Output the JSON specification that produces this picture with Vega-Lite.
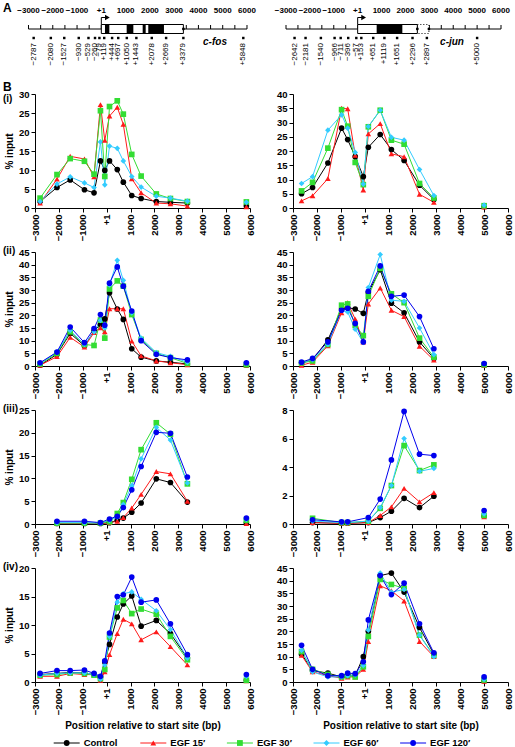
{
"$schema":"https://vega.github.io/schema/vega-lite/v6.json",
"autosize":{"type":"pad"},
"padding":{"left":3,"top":1,"right":0,"bottom":0},
"background":"white",
"config":{"font":"Liberation Sans","view":{"stroke":null},
 "axis":{"labelFont":"Liberation Sans","labelFontWeight":"bold","labelFontSize":9.5,"labelColor":"#000","domainColor":"#000","tickColor":"#000","tickSize":4,"grid":false,"titleFont":"Liberation Sans","titleFontWeight":"bold","titleFontSize":10,"titleColor":"#000"},
 "title":{"font":"Liberation Sans","fontWeight":"bold","color":"#000"},
 "text":{"font":"Liberation Sans"}},
"datasets":{
"fos":[
{"m":"K9","pos":-2787,"Control":1.7,"EGF 15′":1.3,"EGF 30′":2.6,"EGF 60′":1.7},
{"m":"K9","pos":-2080,"Control":5.4,"EGF 15′":7.6,"EGF 30′":8.8,"EGF 60′":6.3},
{"m":"K9","pos":-1527,"Control":7.4,"EGF 15′":13.6,"EGF 30′":13.0,"EGF 60′":8.2},
{"m":"K9","pos":-930,"Control":4.8,"EGF 15′":12.9,"EGF 30′":12.3,"EGF 60′":6.6},
{"m":"K9","pos":-529,"Control":4.0,"EGF 15′":8.2,"EGF 30′":8.9,"EGF 60′":5.4},
{"m":"K9","pos":-260,"Control":12.4,"EGF 15′":27.2,"EGF 30′":25.6,"EGF 60′":17.4},
{"m":"K9","pos":-79,"Control":9.9,"EGF 15′":17.8,"EGF 30′":8.3,"EGF 60′":6.1},
{"m":"K9","pos":119,"Control":12.4,"EGF 15′":24.2,"EGF 30′":26.7,"EGF 60′":16.3},
{"m":"K9","pos":444,"Control":10.1,"EGF 15′":26.5,"EGF 30′":28.2,"EGF 60′":15.7},
{"m":"K9","pos":697,"Control":6.8,"EGF 15′":22.0,"EGF 30′":24.7,"EGF 60′":12.4},
{"m":"K9","pos":1050,"Control":3.3,"EGF 15′":7.7,"EGF 30′":14.1,"EGF 60′":8.3},
{"m":"K9","pos":1443,"Control":2.5,"EGF 15′":4.0,"EGF 30′":8.4,"EGF 60′":5.5},
{"m":"K9","pos":2078,"Control":1.7,"EGF 15′":1.3,"EGF 30′":3.7,"EGF 60′":3.1},
{"m":"K9","pos":2669,"Control":1.5,"EGF 15′":1.1,"EGF 30′":2.5,"EGF 60′":2.6},
{"m":"K9","pos":3379,"Control":1.3,"EGF 15′":0.5,"EGF 30′":1.7,"EGF 60′":1.8},
{"m":"K9","pos":5848,"Control":0.5,"EGF 15′":0.3,"EGF 30′":1.6,"EGF 60′":1.5},
{"m":"K4","pos":-2787,"Control":0.3,"EGF 15′":0.3,"EGF 30′":0.8,"EGF 60′":1.0,"EGF 120′":1.3},
{"m":"K4","pos":-2080,"Control":4.6,"EGF 15′":3.7,"EGF 30′":5.0,"EGF 60′":5.5,"EGF 120′":5.5},
{"m":"K4","pos":-1527,"Control":12.9,"EGF 15′":11.3,"EGF 30′":13.5,"EGF 60′":14.0,"EGF 120′":15.4},
{"m":"K4","pos":-930,"Control":8.0,"EGF 15′":7.5,"EGF 30′":8.5,"EGF 60′":8.5,"EGF 120′":9.2},
{"m":"K4","pos":-529,"Control":13.8,"EGF 15′":13.2,"EGF 30′":8.1,"EGF 60′":13.5,"EGF 120′":14.8},
{"m":"K4","pos":-260,"Control":16.5,"EGF 15′":15.1,"EGF 30′":18.1,"EGF 60′":18.0,"EGF 120′":20.3},
{"m":"K4","pos":-79,"Control":18.6,"EGF 15′":13.5,"EGF 30′":11.0,"EGF 60′":15.0,"EGF 120′":16.1},
{"m":"K4","pos":119,"Control":28.9,"EGF 15′":22.6,"EGF 30′":30.4,"EGF 60′":32.0,"EGF 120′":32.7},
{"m":"K4","pos":444,"Control":22.5,"EGF 15′":22.6,"EGF 30′":33.6,"EGF 60′":41.7,"EGF 120′":39.1},
{"m":"K4","pos":697,"Control":18.4,"EGF 15′":22.6,"EGF 30′":31.5,"EGF 60′":33.8,"EGF 120′":31.5},
{"m":"K4","pos":1050,"Control":6.8,"EGF 15′":9.8,"EGF 30′":20.3,"EGF 60′":21.0,"EGF 120′":21.7},
{"m":"K4","pos":1443,"Control":3.5,"EGF 15′":4.0,"EGF 30′":10.5,"EGF 60′":11.0,"EGF 120′":10.0},
{"m":"K4","pos":2078,"Control":2.0,"EGF 15′":2.0,"EGF 30′":5.0,"EGF 60′":5.3,"EGF 120′":4.6},
{"m":"K4","pos":2669,"Control":1.5,"EGF 15′":1.3,"EGF 30′":3.3,"EGF 60′":3.8,"EGF 120′":3.3},
{"m":"K4","pos":3379,"Control":0.8,"EGF 15′":0.5,"EGF 30′":1.0,"EGF 60′":1.5,"EGF 120′":2.4},
{"m":"K4","pos":5848,"Control":0.3,"EGF 15′":0.3,"EGF 30′":0.5,"EGF 60′":1.2,"EGF 120′":1.3},
{"m":"K36","pos":-2080,"Control":0.1,"EGF 15′":0.1,"EGF 30′":0.2,"EGF 60′":0.3,"EGF 120′":0.6},
{"m":"K36","pos":-930,"Control":0.1,"EGF 15′":0.1,"EGF 30′":0.2,"EGF 60′":0.3,"EGF 120′":0.6},
{"m":"K36","pos":-260,"Control":0.1,"EGF 15′":0.1,"EGF 30′":0.2,"EGF 60′":0.2,"EGF 120′":0.3},
{"m":"K36","pos":119,"Control":0.3,"EGF 15′":0.3,"EGF 30′":0.5,"EGF 60′":0.8,"EGF 120′":1.1},
{"m":"K36","pos":444,"Control":0.8,"EGF 15′":0.6,"EGF 30′":2.3,"EGF 60′":1.5,"EGF 120′":1.7},
{"m":"K36","pos":697,"Control":1.3,"EGF 15′":1.4,"EGF 30′":4.7,"EGF 60′":4.3,"EGF 120′":3.6},
{"m":"K36","pos":1050,"Control":2.6,"EGF 15′":3.5,"EGF 30′":9.8,"EGF 60′":8.4,"EGF 120′":7.5},
{"m":"K36","pos":1443,"Control":4.6,"EGF 15′":6.5,"EGF 30′":16.3,"EGF 60′":14.3,"EGF 120′":12.6},
{"m":"K36","pos":2078,"Control":9.9,"EGF 15′":11.5,"EGF 30′":22.2,"EGF 60′":21.2,"EGF 120′":20.1},
{"m":"K36","pos":2669,"Control":9.1,"EGF 15′":11.0,"EGF 30′":19.7,"EGF 60′":18.4,"EGF 120′":19.9},
{"m":"K36","pos":3379,"Control":4.8,"EGF 15′":5.0,"EGF 30′":8.8,"EGF 60′":9.0,"EGF 120′":10.3},
{"m":"K36","pos":5848,"Control":0.2,"EGF 15′":0.1,"EGF 30′":0.8,"EGF 60′":1.0,"EGF 120′":1.3},
{"m":"K79","pos":-2787,"Control":1.3,"EGF 15′":1.0,"EGF 30′":1.2,"EGF 60′":1.2,"EGF 120′":1.5},
{"m":"K79","pos":-2080,"Control":1.5,"EGF 15′":1.0,"EGF 30′":1.3,"EGF 60′":1.5,"EGF 120′":2.0},
{"m":"K79","pos":-1527,"Control":1.7,"EGF 15′":1.5,"EGF 30′":1.6,"EGF 60′":1.6,"EGF 120′":2.0},
{"m":"K79","pos":-930,"Control":1.6,"EGF 15′":1.3,"EGF 30′":1.5,"EGF 60′":1.6,"EGF 120′":2.1},
{"m":"K79","pos":-529,"Control":1.3,"EGF 15′":1.3,"EGF 30′":1.2,"EGF 60′":1.3,"EGF 120′":1.5},
{"m":"K79","pos":-260,"Control":0.8,"EGF 15′":0.3,"EGF 30′":0.6,"EGF 60′":0.5,"EGF 120′":1.0},
{"m":"K79","pos":-79,"Control":3.5,"EGF 15′":1.8,"EGF 30′":2.2,"EGF 60′":3.0,"EGF 120′":3.7},
{"m":"K79","pos":119,"Control":6.6,"EGF 15′":4.8,"EGF 30′":7.9,"EGF 60′":8.0,"EGF 120′":8.6},
{"m":"K79","pos":444,"Control":11.4,"EGF 15′":8.5,"EGF 30′":13.0,"EGF 60′":14.0,"EGF 120′":15.0},
{"m":"K79","pos":697,"Control":13.7,"EGF 15′":11.0,"EGF 30′":14.3,"EGF 60′":15.5,"EGF 120′":15.3},
{"m":"K79","pos":1050,"Control":15.1,"EGF 15′":10.2,"EGF 30′":12.0,"EGF 60′":15.8,"EGF 120′":18.4},
{"m":"K79","pos":1443,"Control":9.8,"EGF 15′":7.4,"EGF 30′":12.8,"EGF 60′":14.5,"EGF 120′":14.0},
{"m":"K79","pos":2078,"Control":10.8,"EGF 15′":8.8,"EGF 30′":11.9,"EGF 60′":12.5,"EGF 120′":14.4},
{"m":"K79","pos":2669,"Control":8.5,"EGF 15′":6.2,"EGF 30′":8.0,"EGF 60′":9.2,"EGF 120′":10.2},
{"m":"K79","pos":3379,"Control":4.2,"EGF 15′":3.0,"EGF 30′":3.9,"EGF 60′":4.2,"EGF 120′":4.8},
{"m":"K79","pos":5848,"Control":0.3,"EGF 15′":0.2,"EGF 30′":0.3,"EGF 60′":1.0,"EGF 120′":1.3}
],
"jun":[
{"m":"K9","pos":-2642,"Control":5.0,"EGF 15′":2.5,"EGF 30′":6.0,"EGF 60′":8.6},
{"m":"K9","pos":-2181,"Control":7.2,"EGF 15′":4.3,"EGF 30′":9.0,"EGF 60′":11.0},
{"m":"K9","pos":-1540,"Control":15.8,"EGF 15′":10.3,"EGF 30′":21.0,"EGF 60′":27.3},
{"m":"K9","pos":-966,"Control":28.0,"EGF 15′":35.0,"EGF 30′":34.5,"EGF 60′":32.7},
{"m":"K9","pos":-711,"Control":24.0,"EGF 15′":34.8,"EGF 30′":28.7,"EGF 60′":28.0},
{"m":"K9","pos":-396,"Control":18.0,"EGF 15′":18.5,"EGF 30′":16.0,"EGF 60′":19.5},
{"m":"K9","pos":-57,"Control":11.0,"EGF 15′":6.3,"EGF 30′":8.2,"EGF 60′":8.4},
{"m":"K9","pos":153,"Control":21.3,"EGF 15′":26.0,"EGF 30′":28.5,"EGF 60′":28.6},
{"m":"K9","pos":651,"Control":25.8,"EGF 15′":29.6,"EGF 30′":34.3,"EGF 60′":34.3},
{"m":"K9","pos":1119,"Control":20.5,"EGF 15′":19.0,"EGF 30′":23.8,"EGF 60′":24.8},
{"m":"K9","pos":1651,"Control":16.7,"EGF 15′":18.0,"EGF 30′":22.4,"EGF 60′":23.8},
{"m":"K9","pos":2296,"Control":8.0,"EGF 15′":4.8,"EGF 30′":8.6,"EGF 60′":13.5},
{"m":"K9","pos":2897,"Control":3.0,"EGF 15′":2.0,"EGF 30′":3.5,"EGF 60′":4.4},
{"m":"K9","pos":5000,"Control":0.5,"EGF 15′":0.3,"EGF 30′":0.8,"EGF 60′":1.0},
{"m":"K4","pos":-2642,"Control":1.2,"EGF 15′":0.3,"EGF 30′":1.2,"EGF 60′":1.3,"EGF 120′":1.5},
{"m":"K4","pos":-2181,"Control":2.5,"EGF 15′":1.5,"EGF 30′":2.0,"EGF 60′":2.5,"EGF 120′":3.0},
{"m":"K4","pos":-1540,"Control":10.3,"EGF 15′":8.0,"EGF 30′":8.5,"EGF 60′":8.5,"EGF 120′":9.5},
{"m":"K4","pos":-966,"Control":22.5,"EGF 15′":21.0,"EGF 30′":24.0,"EGF 60′":22.0,"EGF 120′":22.0},
{"m":"K4","pos":-711,"Control":23.0,"EGF 15′":25.0,"EGF 30′":24.5,"EGF 60′":21.3,"EGF 120′":22.8},
{"m":"K4","pos":-396,"Control":22.5,"EGF 15′":18.5,"EGF 30′":16.0,"EGF 60′":14.5,"EGF 120′":16.8},
{"m":"K4","pos":-57,"Control":20.8,"EGF 15′":9.5,"EGF 30′":12.0,"EGF 60′":9.3,"EGF 120′":9.5},
{"m":"K4","pos":153,"Control":29.0,"EGF 15′":24.5,"EGF 30′":27.5,"EGF 60′":31.0,"EGF 120′":29.5},
{"m":"K4","pos":651,"Control":38.0,"EGF 15′":30.8,"EGF 30′":38.5,"EGF 60′":44.0,"EGF 120′":39.5},
{"m":"K4","pos":1119,"Control":24.8,"EGF 15′":22.0,"EGF 30′":28.5,"EGF 60′":26.0,"EGF 120′":27.5},
{"m":"K4","pos":1651,"Control":21.0,"EGF 15′":19.5,"EGF 30′":25.0,"EGF 60′":25.5,"EGF 120′":28.0},
{"m":"K4","pos":2296,"Control":9.5,"EGF 15′":7.8,"EGF 30′":11.0,"EGF 60′":15.0,"EGF 120′":19.5},
{"m":"K4","pos":2897,"Control":3.0,"EGF 15′":2.3,"EGF 30′":3.5,"EGF 60′":4.5,"EGF 120′":6.8},
{"m":"K4","pos":5000,"Control":0.3,"EGF 15′":0.2,"EGF 30′":0.5,"EGF 60′":1.0,"EGF 120′":1.0},
{"m":"K36","pos":-2181,"Control":0.1,"EGF 15′":0.1,"EGF 30′":0.4,"EGF 60′":0.2,"EGF 120′":0.3},
{"m":"K36","pos":-966,"Control":0.05,"EGF 15′":0.05,"EGF 30′":0.1,"EGF 60′":0.1,"EGF 120′":0.15},
{"m":"K36","pos":-711,"Control":0.05,"EGF 15′":0.05,"EGF 30′":0.1,"EGF 60′":0.1,"EGF 120′":0.15},
{"m":"K36","pos":153,"Control":0.1,"EGF 15′":0.1,"EGF 30′":0.2,"EGF 60′":0.2,"EGF 120′":0.45},
{"m":"K36","pos":651,"Control":0.45,"EGF 15′":0.6,"EGF 30′":1.1,"EGF 60′":1.15,"EGF 120′":1.75},
{"m":"K36","pos":1119,"Control":0.9,"EGF 15′":1.2,"EGF 30′":2.7,"EGF 60′":2.7,"EGF 120′":4.5},
{"m":"K36","pos":1651,"Control":1.8,"EGF 15′":2.5,"EGF 30′":5.5,"EGF 60′":6.0,"EGF 120′":7.9},
{"m":"K36","pos":2296,"Control":1.15,"EGF 15′":1.55,"EGF 30′":3.75,"EGF 60′":3.7,"EGF 120′":4.9},
{"m":"K36","pos":2897,"Control":1.95,"EGF 15′":2.2,"EGF 30′":4.15,"EGF 60′":3.9,"EGF 120′":4.8},
{"m":"K36","pos":5000,"Control":0.55,"EGF 15′":0.5,"EGF 30′":0.6,"EGF 60′":0.7,"EGF 120′":0.95},
{"m":"K79","pos":-2642,"Control":11.0,"EGF 15′":10.5,"EGF 30′":12.0,"EGF 60′":12.5,"EGF 120′":14.5},
{"m":"K79","pos":-2181,"Control":4.5,"EGF 15′":4.0,"EGF 30′":5.0,"EGF 60′":4.0,"EGF 120′":5.0},
{"m":"K79","pos":-1540,"Control":3.5,"EGF 15′":2.5,"EGF 30′":3.0,"EGF 60′":2.0,"EGF 120′":2.5},
{"m":"K79","pos":-966,"Control":2.0,"EGF 15′":1.5,"EGF 30′":2.0,"EGF 60′":2.0,"EGF 120′":2.5},
{"m":"K79","pos":-711,"Control":2.8,"EGF 15′":2.0,"EGF 30′":2.5,"EGF 60′":2.5,"EGF 120′":3.5},
{"m":"K79","pos":-396,"Control":2.5,"EGF 15′":2.0,"EGF 30′":2.0,"EGF 60′":2.8,"EGF 120′":3.3},
{"m":"K79","pos":-57,"Control":10.0,"EGF 15′":5.0,"EGF 30′":6.0,"EGF 60′":6.5,"EGF 120′":8.0},
{"m":"K79","pos":153,"Control":20.0,"EGF 15′":16.0,"EGF 30′":18.0,"EGF 60′":20.5,"EGF 120′":24.5},
{"m":"K79","pos":651,"Control":42.0,"EGF 15′":38.0,"EGF 30′":40.5,"EGF 60′":43.0,"EGF 120′":42.0},
{"m":"K79","pos":1119,"Control":43.0,"EGF 15′":36.0,"EGF 30′":38.5,"EGF 60′":35.5,"EGF 120′":34.5},
{"m":"K79","pos":1651,"Control":35.5,"EGF 15′":32.0,"EGF 30′":37.0,"EGF 60′":36.5,"EGF 120′":39.0},
{"m":"K79","pos":2296,"Control":21.5,"EGF 15′":16.0,"EGF 30′":18.5,"EGF 60′":18.5,"EGF 120′":23.0},
{"m":"K79","pos":2897,"Control":11.0,"EGF 15′":10.0,"EGF 30′":10.5,"EGF 60′":10.0,"EGF 120′":11.5},
{"m":"K79","pos":5000,"Control":0.5,"EGF 15′":0.3,"EGF 30′":0.8,"EGF 60′":1.0,"EGF 120′":2.0}
],
"ruler":[{"v":-3000,"lab":"−3000"},{"v":-2500,"lab":""},{"v":-2000,"lab":"−2000"},{"v":-1500,"lab":""},{"v":-1000,"lab":"−1000"},{"v":-500,"lab":""},{"v":0,"lab":"+1"},{"v":500,"lab":""},{"v":1000,"lab":"1000"},{"v":1500,"lab":""},{"v":2000,"lab":"2000"},{"v":2500,"lab":""},{"v":3000,"lab":"3000"},{"v":3500,"lab":""},{"v":4000,"lab":"4000"},{"v":4500,"lab":""},{"v":5000,"lab":"5000"},{"v":5500,"lab":""},{"v":6000,"lab":"6000"}],
"fosPrimers":[{"pos":-2787},{"pos":-2080},{"pos":-1527},{"pos":-930},{"pos":-529},{"pos":-260},{"pos":-79},{"pos":119},{"pos":444},{"pos":697},{"pos":1050},{"pos":1443},{"pos":2078},{"pos":2669},{"pos":3379},{"pos":5848}],
"junPrimers":[{"pos":-2642},{"pos":-2181},{"pos":-1540},{"pos":-966},{"pos":-711},{"pos":-396},{"pos":-57},{"pos":153},{"pos":651},{"pos":1119},{"pos":1651},{"pos":2296},{"pos":2897},{"pos":5000}],
"leg":[{"s":"Control"},{"s":"EGF 15′"},{"s":"EGF 30′"},{"s":"EGF 60′"},{"s":"EGF 120′"}]
},
"columns":2,
"bounds":"flush",
"spacing":{"row":44,"column":43},
"concat":[
  {"width":215,"height":21,
   "title":{"text":"A","anchor":"start","frame":"group","dx":-32,"dy":8,"offset":0,"fontSize":12},
   "layer":[
    {"data":{"values":[{"a":-3000,"b":6000}]},"mark":{"type":"rule","color":"#000","strokeWidth":1},
     "encoding":{"x":{"field":"a","type":"quantitative","scale":{"domain":[-2732,6124],"nice":false,"zero":false},"axis":null},"x2":{"field":"b"},"y":{"datum":0,"type":"quantitative","scale":{"domain":[0,21],"reverse":true,"nice":false,"zero":false},"axis":null}}},
    {"data":{"name":"ruler"},"mark":{"type":"rule","color":"#000","strokeWidth":1},
     "encoding":{"x":{"field":"v","type":"quantitative","scale":{"domain":[-2732,6124],"nice":false,"zero":false},"axis":null},"y":{"datum":-4,"type":"quantitative","scale":{"domain":[0,21],"reverse":true,"nice":false,"zero":false},"axis":null},"y2":{"datum":0}}},
    {"data":{"name":"ruler"},"mark":{"type":"text","fontSize":8,"fontWeight":"bold","baseline":"middle","color":"#000"},
     "encoding":{"x":{"field":"v","type":"quantitative","scale":{"domain":[-2732,6124],"nice":false,"zero":false},"axis":null},"y":{"datum":-18.5,"type":"quantitative","scale":{"domain":[0,21],"reverse":true,"nice":false,"zero":false},"axis":null},"text":{"field":"lab"}}},
    {"data":{"values":[{"a":0,"b":3380}]},"mark":{"type":"rect","fill":"#fff","stroke":"#000","strokeWidth":1},
     "encoding":{"x":{"field":"a","type":"quantitative","scale":{"domain":[-2732,6124],"nice":false,"zero":false},"axis":null},"x2":{"field":"b"},"y":{"datum":-4.5,"type":"quantitative","scale":{"domain":[0,21],"reverse":true,"nice":false,"zero":false},"axis":null},"y2":{"datum":4.5}}},
    {"data":{"values":[{"a":150,"b":330},{"a":1044,"b":1319},{"a":1703,"b":1827},{"a":1934,"b":2580}]},"mark":{"type":"rect","fill":"#000"},
     "encoding":{"x":{"field":"a","type":"quantitative","scale":{"domain":[-2732,6124],"nice":false,"zero":false},"axis":null},"x2":{"field":"b"},"y":{"datum":-4.5,"type":"quantitative","scale":{"domain":[0,21],"reverse":true,"nice":false,"zero":false},"axis":null},"y2":{"datum":4.5}}},
    {"data":{"values":[{"a":3380}]},"mark":{"type":"point","shape":"circle","filled":true,"color":"#000","size":8,"opacity":1},
     "encoding":{"x":{"field":"a","type":"quantitative","scale":{"domain":[-2732,6124],"nice":false,"zero":false},"axis":null},"y":{"datum":0,"type":"quantitative","scale":{"domain":[0,21],"reverse":true,"nice":false,"zero":false},"axis":null}}},
    {"data":{"values":[{"a":0}]},"mark":{"type":"rule","color":"#000","strokeWidth":1},
     "encoding":{"x":{"field":"a","type":"quantitative","scale":{"domain":[-2732,6124],"nice":false,"zero":false},"axis":null},"y":{"datum":-4.5,"type":"quantitative","scale":{"domain":[0,21],"reverse":true,"nice":false,"zero":false},"axis":null},"y2":{"datum":-11.5}}},
    {"data":{"values":[{"a":0,"b":180}]},"mark":{"type":"rule","color":"#000","strokeWidth":1},
     "encoding":{"x":{"field":"a","type":"quantitative","scale":{"domain":[-2732,6124],"nice":false,"zero":false},"axis":null},"x2":{"field":"b"},"y":{"datum":-11.5,"type":"quantitative","scale":{"domain":[0,21],"reverse":true,"nice":false,"zero":false},"axis":null}}},
    {"data":{"values":[{"a":250}]},"mark":{"type":"point","shape":"triangle-right","filled":true,"color":"#000","size":30,"opacity":1},
     "encoding":{"x":{"field":"a","type":"quantitative","scale":{"domain":[-2732,6124],"nice":false,"zero":false},"axis":null},"y":{"datum":-11.5,"type":"quantitative","scale":{"domain":[0,21],"reverse":true,"nice":false,"zero":false},"axis":null}}},
    {"data":{"name":"fosPrimers"},"mark":{"type":"point","shape":"square","filled":true,"color":"#000","size":6,"opacity":1},
     "encoding":{"x":{"field":"pos","type":"quantitative","scale":{"domain":[-2732,6124],"nice":false,"zero":false},"axis":null},"y":{"datum":9,"type":"quantitative","scale":{"domain":[0,21],"reverse":true,"nice":false,"zero":false},"axis":null}}},
    {"data":{"name":"fosPrimers"},"mark":{"type":"text","angle":270,"align":"right","baseline":"middle","fontSize":8,"color":"#000"},
     "encoding":{"x":{"field":"pos","type":"quantitative","scale":{"domain":[-2732,6124],"nice":false,"zero":false},"axis":null},"y":{"datum":14,"type":"quantitative","scale":{"domain":[0,21],"reverse":true,"nice":false,"zero":false},"axis":null},"text":{"field":"pos","type":"quantitative","format":"+d"}}},
    {"data":{"values":[{"t":"c-fos"}]},"mark":{"type":"text","align":"left","baseline":"middle","fontSize":10,"fontWeight":"bold","fontStyle":"italic","color":"#000"},
     "encoding":{"x":{"datum":4190,"type":"quantitative","scale":{"domain":[-2732,6124],"nice":false,"zero":false},"axis":null},"y":{"datum":13.3,"type":"quantitative","scale":{"domain":[0,21],"reverse":true,"nice":false,"zero":false},"axis":null},"text":{"field":"t"}}}
   ]},
  {"width":215,"height":21,
   "layer":[
    {"data":{"values":[{"a":-3000,"b":6000}]},"mark":{"type":"rule","color":"#000","strokeWidth":1},
     "encoding":{"x":{"field":"a","type":"quantitative","scale":{"domain":[-2707,6293],"nice":false,"zero":false},"axis":null},"x2":{"field":"b"},"y":{"datum":0,"type":"quantitative","scale":{"domain":[0,21],"reverse":true,"nice":false,"zero":false},"axis":null}}},
    {"data":{"name":"ruler"},"mark":{"type":"rule","color":"#000","strokeWidth":1},
     "encoding":{"x":{"field":"v","type":"quantitative","scale":{"domain":[-2707,6293],"nice":false,"zero":false},"axis":null},"y":{"datum":-4,"type":"quantitative","scale":{"domain":[0,21],"reverse":true,"nice":false,"zero":false},"axis":null},"y2":{"datum":0}}},
    {"data":{"name":"ruler"},"mark":{"type":"text","fontSize":8,"fontWeight":"bold","baseline":"middle","color":"#000"},
     "encoding":{"x":{"field":"v","type":"quantitative","scale":{"domain":[-2707,6293],"nice":false,"zero":false},"axis":null},"y":{"datum":-18.5,"type":"quantitative","scale":{"domain":[0,21],"reverse":true,"nice":false,"zero":false},"axis":null},"text":{"field":"lab"}}},
    {"data":{"values":[{"a":2498,"b":2983}]},"mark":{"type":"rect","fill":"#fff","stroke":"#000","strokeWidth":1,"strokeDash":[1,2]},
     "encoding":{"x":{"field":"a","type":"quantitative","scale":{"domain":[-2707,6293],"nice":false,"zero":false},"axis":null},"x2":{"field":"b"},"y":{"datum":-4.5,"type":"quantitative","scale":{"domain":[0,21],"reverse":true,"nice":false,"zero":false},"axis":null},"y2":{"datum":4.5}}},
    {"data":{"values":[{"a":0,"b":2498}]},"mark":{"type":"rect","fill":"#fff","stroke":"#000","strokeWidth":1},
     "encoding":{"x":{"field":"a","type":"quantitative","scale":{"domain":[-2707,6293],"nice":false,"zero":false},"axis":null},"x2":{"field":"b"},"y":{"datum":-4.5,"type":"quantitative","scale":{"domain":[0,21],"reverse":true,"nice":false,"zero":false},"axis":null},"y2":{"datum":4.5}}},
    {"data":{"values":[{"a":795,"b":1870}]},"mark":{"type":"rect","fill":"#000"},
     "encoding":{"x":{"field":"a","type":"quantitative","scale":{"domain":[-2707,6293],"nice":false,"zero":false},"axis":null},"x2":{"field":"b"},"y":{"datum":-4.5,"type":"quantitative","scale":{"domain":[0,21],"reverse":true,"nice":false,"zero":false},"axis":null},"y2":{"datum":4.5}}},
    {"data":{"values":[{"a":2498},{"a":2983}]},"mark":{"type":"point","shape":"circle","filled":true,"color":"#000","size":8,"opacity":1},
     "encoding":{"x":{"field":"a","type":"quantitative","scale":{"domain":[-2707,6293],"nice":false,"zero":false},"axis":null},"y":{"datum":0,"type":"quantitative","scale":{"domain":[0,21],"reverse":true,"nice":false,"zero":false},"axis":null}}},
    {"data":{"values":[{"a":0}]},"mark":{"type":"rule","color":"#000","strokeWidth":1},
     "encoding":{"x":{"field":"a","type":"quantitative","scale":{"domain":[-2707,6293],"nice":false,"zero":false},"axis":null},"y":{"datum":-4.5,"type":"quantitative","scale":{"domain":[0,21],"reverse":true,"nice":false,"zero":false},"axis":null},"y2":{"datum":-11.5}}},
    {"data":{"values":[{"a":0,"b":180}]},"mark":{"type":"rule","color":"#000","strokeWidth":1},
     "encoding":{"x":{"field":"a","type":"quantitative","scale":{"domain":[-2707,6293],"nice":false,"zero":false},"axis":null},"x2":{"field":"b"},"y":{"datum":-11.5,"type":"quantitative","scale":{"domain":[0,21],"reverse":true,"nice":false,"zero":false},"axis":null}}},
    {"data":{"values":[{"a":250}]},"mark":{"type":"point","shape":"triangle-right","filled":true,"color":"#000","size":30,"opacity":1},
     "encoding":{"x":{"field":"a","type":"quantitative","scale":{"domain":[-2707,6293],"nice":false,"zero":false},"axis":null},"y":{"datum":-11.5,"type":"quantitative","scale":{"domain":[0,21],"reverse":true,"nice":false,"zero":false},"axis":null}}},
    {"data":{"name":"junPrimers"},"mark":{"type":"point","shape":"square","filled":true,"color":"#000","size":6,"opacity":1},
     "encoding":{"x":{"field":"pos","type":"quantitative","scale":{"domain":[-2707,6293],"nice":false,"zero":false},"axis":null},"y":{"datum":9,"type":"quantitative","scale":{"domain":[0,21],"reverse":true,"nice":false,"zero":false},"axis":null}}},
    {"data":{"name":"junPrimers"},"mark":{"type":"text","angle":270,"align":"right","baseline":"middle","fontSize":8,"color":"#000"},
     "encoding":{"x":{"field":"pos","type":"quantitative","scale":{"domain":[-2707,6293],"nice":false,"zero":false},"axis":null},"y":{"datum":14,"type":"quantitative","scale":{"domain":[0,21],"reverse":true,"nice":false,"zero":false},"axis":null},"text":{"field":"pos","type":"quantitative","format":"+d"}}},
    {"data":{"values":[{"t":"c-jun"}]},"mark":{"type":"text","align":"left","baseline":"middle","fontSize":10,"fontWeight":"bold","fontStyle":"italic","color":"#000"},
     "encoding":{"x":{"datum":3450,"type":"quantitative","scale":{"domain":[-2707,6293],"nice":false,"zero":false},"axis":null},"y":{"datum":13.3,"type":"quantitative","scale":{"domain":[0,21],"reverse":true,"nice":false,"zero":false},"axis":null},"text":{"field":"t"}}}
   ]},
   {"width":215,"height":114,
    "title":{"text":"B","subtitle":"(i)","anchor":"start","frame":"group","dx":-32,"dy":16,"offset":0,"fontSize":12,"subtitleFontSize":10,"subtitleFontWeight":"bold","subtitleColor":"#000","subtitleFont":"Liberation Sans","subtitlePadding":0},
    "data":{"name":"fos"},
    "transform":[{"filter":"datum.m === 'K9'"},{"fold":["Control","EGF 15′","EGF 30′","EGF 60′","EGF 120′"],"as":["s","v"]},{"filter":"isValid(datum.v)"}],
    "encoding":{
     "x":{"field":"pos","type":"quantitative","scale":{"domain":[-3000,6000],"nice":false,"zero":false},"axis":{"values":[-3000,-2000,-1000,0,1000,2000,3000,4000,5000,6000],"format":"d","labelExpr":"datum.value === 0 ? '+1' : datum.label","labelAngle":270,"labelFlush":false,"labelOverlap":false,"labelPadding":2,"title":null}},
     "y":{"field":"v","type":"quantitative","scale":{"domain":[0,30],"nice":false},"axis":{"values":[0,5,10,15,20,25,30],"labelPadding":2,"title":"% input","titlePadding":4}},
     "color":{"field":"s","type":"nominal","scale":{"domain":["Control","EGF 15′","EGF 30′","EGF 60′","EGF 120′"],"range":["#000000","#ff1a1a","#33dd33","#33ccff","#0000ee"]},"legend":null}},
    "layer":[
     {"transform":[{"filter":"datum.pos < 4000"}],"mark":{"type":"line","strokeWidth":1}},
     {"mark":{"type":"point","filled":true,"opacity":1,"size":32},"encoding":{"shape":{"field":"s","type":"nominal","scale":{"domain":["Control","EGF 15′","EGF 30′","EGF 60′","EGF 120′"],"range":["circle","triangle-up","square","diamond","circle"]},"legend":null}}},
     {"data":{"values":[{"t":"H3K9ac"}]},"mark":{"type":"text","align":"right","baseline":"middle","fontSize":11.5,"fontWeight":"bold","dx":-7,"dy":9},"encoding":{"x":{"datum":6000},"y":{"datum":30},"text":{"field":"t"},"color":{"value":"#000"}}}
    ]},
   {"width":215,"height":114,
    "data":{"name":"jun"},
    "transform":[{"filter":"datum.m === 'K9'"},{"fold":["Control","EGF 15′","EGF 30′","EGF 60′","EGF 120′"],"as":["s","v"]},{"filter":"isValid(datum.v)"}],
    "encoding":{
     "x":{"field":"pos","type":"quantitative","scale":{"domain":[-3000,6000],"nice":false,"zero":false},"axis":{"values":[-3000,-2000,-1000,0,1000,2000,3000,4000,5000,6000],"format":"d","labelExpr":"datum.value === 0 ? '+1' : datum.label","labelAngle":270,"labelFlush":false,"labelOverlap":false,"labelPadding":2,"title":null}},
     "y":{"field":"v","type":"quantitative","scale":{"domain":[0,40],"nice":false},"axis":{"values":[0,5,10,15,20,25,30,35,40],"labelPadding":2,"title":null}},
     "color":{"field":"s","type":"nominal","scale":{"domain":["Control","EGF 15′","EGF 30′","EGF 60′","EGF 120′"],"range":["#000000","#ff1a1a","#33dd33","#33ccff","#0000ee"]},"legend":null}},
    "layer":[
     {"transform":[{"filter":"datum.pos < 4000"}],"mark":{"type":"line","strokeWidth":1}},
     {"mark":{"type":"point","filled":true,"opacity":1,"size":32},"encoding":{"shape":{"field":"s","type":"nominal","scale":{"domain":["Control","EGF 15′","EGF 30′","EGF 60′","EGF 120′"],"range":["circle","triangle-up","square","diamond","circle"]},"legend":null}}},
     {"data":{"values":[{"t":"H3K9ac"}]},"mark":{"type":"text","align":"right","baseline":"middle","fontSize":11.5,"fontWeight":"bold","dx":-10,"dy":9},"encoding":{"x":{"datum":6000},"y":{"datum":40},"text":{"field":"t"},"color":{"value":"#000"}}}
    ]},
   {"width":215,"height":114,
    "title":{"text":"(ii)","anchor":"start","frame":"group","dx":-32,"dy":9,"offset":0,"fontSize":10},
    "data":{"name":"fos"},
    "transform":[{"filter":"datum.m === 'K4'"},{"fold":["Control","EGF 15′","EGF 30′","EGF 60′","EGF 120′"],"as":["s","v"]},{"filter":"isValid(datum.v)"}],
    "encoding":{
     "x":{"field":"pos","type":"quantitative","scale":{"domain":[-3000,6000],"nice":false,"zero":false},"axis":{"values":[-3000,-2000,-1000,0,1000,2000,3000,4000,5000,6000],"format":"d","labelExpr":"datum.value === 0 ? '+1' : datum.label","labelAngle":270,"labelFlush":false,"labelOverlap":false,"labelPadding":2,"title":null}},
     "y":{"field":"v","type":"quantitative","scale":{"domain":[0,45],"nice":false},"axis":{"values":[0,5,10,15,20,25,30,35,40,45],"labelPadding":2,"title":"% input","titlePadding":4}},
     "color":{"field":"s","type":"nominal","scale":{"domain":["Control","EGF 15′","EGF 30′","EGF 60′","EGF 120′"],"range":["#000000","#ff1a1a","#33dd33","#33ccff","#0000ee"]},"legend":null}},
    "layer":[
     {"transform":[{"filter":"datum.pos < 4000"}],"mark":{"type":"line","strokeWidth":1}},
     {"mark":{"type":"point","filled":true,"opacity":1,"size":32},"encoding":{"shape":{"field":"s","type":"nominal","scale":{"domain":["Control","EGF 15′","EGF 30′","EGF 60′","EGF 120′"],"range":["circle","triangle-up","square","diamond","circle"]},"legend":null}}},
     {"data":{"values":[{"t":"H3K4me3"}]},"mark":{"type":"text","align":"right","baseline":"middle","fontSize":11.5,"fontWeight":"bold","dx":-9,"dy":8},"encoding":{"x":{"datum":6000},"y":{"datum":45},"text":{"field":"t"},"color":{"value":"#000"}}}
    ]},
   {"width":215,"height":114,
    "data":{"name":"jun"},
    "transform":[{"filter":"datum.m === 'K4'"},{"fold":["Control","EGF 15′","EGF 30′","EGF 60′","EGF 120′"],"as":["s","v"]},{"filter":"isValid(datum.v)"}],
    "encoding":{
     "x":{"field":"pos","type":"quantitative","scale":{"domain":[-3000,6000],"nice":false,"zero":false},"axis":{"values":[-3000,-2000,-1000,0,1000,2000,3000,4000,5000,6000],"format":"d","labelExpr":"datum.value === 0 ? '+1' : datum.label","labelAngle":270,"labelFlush":false,"labelOverlap":false,"labelPadding":2,"title":null}},
     "y":{"field":"v","type":"quantitative","scale":{"domain":[0,45],"nice":false},"axis":{"values":[0,5,10,15,20,25,30,35,40,45],"labelPadding":2,"title":null}},
     "color":{"field":"s","type":"nominal","scale":{"domain":["Control","EGF 15′","EGF 30′","EGF 60′","EGF 120′"],"range":["#000000","#ff1a1a","#33dd33","#33ccff","#0000ee"]},"legend":null}},
    "layer":[
     {"transform":[{"filter":"datum.pos < 4000"}],"mark":{"type":"line","strokeWidth":1}},
     {"mark":{"type":"point","filled":true,"opacity":1,"size":32},"encoding":{"shape":{"field":"s","type":"nominal","scale":{"domain":["Control","EGF 15′","EGF 30′","EGF 60′","EGF 120′"],"range":["circle","triangle-up","square","diamond","circle"]},"legend":null}}},
     {"data":{"values":[{"t":"H3K4me3"}]},"mark":{"type":"text","align":"right","baseline":"middle","fontSize":11.5,"fontWeight":"bold","dx":-9,"dy":8},"encoding":{"x":{"datum":6000},"y":{"datum":45},"text":{"field":"t"},"color":{"value":"#000"}}}
    ]},
   {"width":215,"height":114,
    "title":{"text":"(iii)","anchor":"start","frame":"group","dx":-32,"dy":9,"offset":0,"fontSize":10},
    "data":{"name":"fos"},
    "transform":[{"filter":"datum.m === 'K36'"},{"fold":["Control","EGF 15′","EGF 30′","EGF 60′","EGF 120′"],"as":["s","v"]},{"filter":"isValid(datum.v)"}],
    "encoding":{
     "x":{"field":"pos","type":"quantitative","scale":{"domain":[-3000,6000],"nice":false,"zero":false},"axis":{"values":[-3000,-2000,-1000,0,1000,2000,3000,4000,5000,6000],"format":"d","labelExpr":"datum.value === 0 ? '+1' : datum.label","labelAngle":270,"labelFlush":false,"labelOverlap":false,"labelPadding":2,"title":null}},
     "y":{"field":"v","type":"quantitative","scale":{"domain":[0,25],"nice":false},"axis":{"values":[0,5,10,15,20,25],"labelPadding":2,"title":"% input","titlePadding":4}},
     "color":{"field":"s","type":"nominal","scale":{"domain":["Control","EGF 15′","EGF 30′","EGF 60′","EGF 120′"],"range":["#000000","#ff1a1a","#33dd33","#33ccff","#0000ee"]},"legend":null}},
    "layer":[
     {"transform":[{"filter":"datum.pos < 4000"}],"mark":{"type":"line","strokeWidth":1}},
     {"mark":{"type":"point","filled":true,"opacity":1,"size":32},"encoding":{"shape":{"field":"s","type":"nominal","scale":{"domain":["Control","EGF 15′","EGF 30′","EGF 60′","EGF 120′"],"range":["circle","triangle-up","square","diamond","circle"]},"legend":null}}},
     {"data":{"values":[{"t":"H3K36me3"}]},"mark":{"type":"text","align":"right","baseline":"middle","fontSize":11.5,"fontWeight":"bold","dx":-9,"dy":8},"encoding":{"x":{"datum":6000},"y":{"datum":25},"text":{"field":"t"},"color":{"value":"#000"}}}
    ]},
   {"width":215,"height":114,
    "data":{"name":"jun"},
    "transform":[{"filter":"datum.m === 'K36'"},{"fold":["Control","EGF 15′","EGF 30′","EGF 60′","EGF 120′"],"as":["s","v"]},{"filter":"isValid(datum.v)"}],
    "encoding":{
     "x":{"field":"pos","type":"quantitative","scale":{"domain":[-3000,6000],"nice":false,"zero":false},"axis":{"values":[-3000,-2000,-1000,0,1000,2000,3000,4000,5000,6000],"format":"d","labelExpr":"datum.value === 0 ? '+1' : datum.label","labelAngle":270,"labelFlush":false,"labelOverlap":false,"labelPadding":2,"title":null}},
     "y":{"field":"v","type":"quantitative","scale":{"domain":[0,8],"nice":false},"axis":{"values":[0,2,4,6,8],"labelPadding":2,"title":null}},
     "color":{"field":"s","type":"nominal","scale":{"domain":["Control","EGF 15′","EGF 30′","EGF 60′","EGF 120′"],"range":["#000000","#ff1a1a","#33dd33","#33ccff","#0000ee"]},"legend":null}},
    "layer":[
     {"transform":[{"filter":"datum.pos < 4000"}],"mark":{"type":"line","strokeWidth":1}},
     {"mark":{"type":"point","filled":true,"opacity":1,"size":32},"encoding":{"shape":{"field":"s","type":"nominal","scale":{"domain":["Control","EGF 15′","EGF 30′","EGF 60′","EGF 120′"],"range":["circle","triangle-up","square","diamond","circle"]},"legend":null}}},
     {"data":{"values":[{"t":"H3K36me3"}]},"mark":{"type":"text","align":"right","baseline":"middle","fontSize":11.5,"fontWeight":"bold","dx":-9,"dy":8},"encoding":{"x":{"datum":6000},"y":{"datum":8},"text":{"field":"t"},"color":{"value":"#000"}}}
    ]},
   {"width":215,"height":114,
    "title":{"text":"(iv)","anchor":"start","frame":"group","dx":-32,"dy":9,"offset":0,"fontSize":10},
    "data":{"name":"fos"},
    "transform":[{"filter":"datum.m === 'K79'"},{"fold":["Control","EGF 15′","EGF 30′","EGF 60′","EGF 120′"],"as":["s","v"]},{"filter":"isValid(datum.v)"}],
    "encoding":{
     "x":{"field":"pos","type":"quantitative","scale":{"domain":[-3000,6000],"nice":false,"zero":false},"axis":{"values":[-3000,-2000,-1000,0,1000,2000,3000,4000,5000,6000],"format":"d","labelExpr":"datum.value === 0 ? '+1' : datum.label","labelAngle":270,"labelFlush":false,"labelOverlap":false,"labelPadding":2,"title":"Position relative to start site (bp)","titlePadding":6}},
     "y":{"field":"v","type":"quantitative","scale":{"domain":[0,20],"nice":false},"axis":{"values":[0,5,10,15,20],"labelPadding":2,"title":"% input","titlePadding":4}},
     "color":{"field":"s","type":"nominal","scale":{"domain":["Control","EGF 15′","EGF 30′","EGF 60′","EGF 120′"],"range":["#000000","#ff1a1a","#33dd33","#33ccff","#0000ee"]},"legend":null}},
    "layer":[
     {"transform":[{"filter":"datum.pos < 4000"}],"mark":{"type":"line","strokeWidth":1}},
     {"mark":{"type":"point","filled":true,"opacity":1,"size":32},"encoding":{"shape":{"field":"s","type":"nominal","scale":{"domain":["Control","EGF 15′","EGF 30′","EGF 60′","EGF 120′"],"range":["circle","triangle-up","square","diamond","circle"]},"legend":null}}},
     {"data":{"values":[{"t":"H3K79me2"}]},"mark":{"type":"text","align":"right","baseline":"middle","fontSize":11.5,"fontWeight":"bold","dx":-9,"dy":8},"encoding":{"x":{"datum":6000},"y":{"datum":20},"text":{"field":"t"},"color":{"value":"#000"}}}
    ]},
   {"width":215,"height":114,
    "data":{"name":"jun"},
    "transform":[{"filter":"datum.m === 'K79'"},{"fold":["Control","EGF 15′","EGF 30′","EGF 60′","EGF 120′"],"as":["s","v"]},{"filter":"isValid(datum.v)"}],
    "encoding":{
     "x":{"field":"pos","type":"quantitative","scale":{"domain":[-3000,6000],"nice":false,"zero":false},"axis":{"values":[-3000,-2000,-1000,0,1000,2000,3000,4000,5000,6000],"format":"d","labelExpr":"datum.value === 0 ? '+1' : datum.label","labelAngle":270,"labelFlush":false,"labelOverlap":false,"labelPadding":2,"title":"Position relative to start site (bp)","titlePadding":6}},
     "y":{"field":"v","type":"quantitative","scale":{"domain":[0,45],"nice":false},"axis":{"values":[0,5,10,15,20,25,30,35,40,45],"labelPadding":2,"title":null}},
     "color":{"field":"s","type":"nominal","scale":{"domain":["Control","EGF 15′","EGF 30′","EGF 60′","EGF 120′"],"range":["#000000","#ff1a1a","#33dd33","#33ccff","#0000ee"]},"legend":null}},
    "layer":[
     {"transform":[{"filter":"datum.pos < 4000"}],"mark":{"type":"line","strokeWidth":1}},
     {"mark":{"type":"point","filled":true,"opacity":1,"size":32},"encoding":{"shape":{"field":"s","type":"nominal","scale":{"domain":["Control","EGF 15′","EGF 30′","EGF 60′","EGF 120′"],"range":["circle","triangle-up","square","diamond","circle"]},"legend":null}}},
     {"data":{"values":[{"t":"H3K79me2"}]},"mark":{"type":"text","align":"right","baseline":"middle","fontSize":11.5,"fontWeight":"bold","dx":-9,"dy":8},"encoding":{"x":{"datum":6000},"y":{"datum":45},"text":{"field":"t"},"color":{"value":"#000"}}}
    ]},
  {"width":215,"height":25,
   "data":{"name":"leg"},
   "encoding":{
    "x":{"field":"s","type":"nominal","scale":{"type":"point","domain":["Control","EGF 15′","EGF 30′","EGF 60′","EGF 120′"],"range":[31.7,378.1],"padding":0},"axis":null},
    "y":{"datum":0,"type":"quantitative","scale":{"domain":[-1,1]},"axis":null},
    "color":{"field":"s","type":"nominal","scale":{"domain":["Control","EGF 15′","EGF 30′","EGF 60′","EGF 120′"],"range":["#000000","#ff1a1a","#33dd33","#33ccff","#0000ee"]},"legend":null}},
   "layer":[
    {"mark":{"type":"rule","xOffset":-13,"x2Offset":13,"yOffset":4.5,"strokeWidth":1},"encoding":{"x2":{"field":"s"}}},
    {"mark":{"type":"point","filled":true,"opacity":1,"size":34,"yOffset":4.5},"encoding":{"shape":{"field":"s","type":"nominal","scale":{"domain":["Control","EGF 15′","EGF 30′","EGF 60′","EGF 120′"],"range":["circle","triangle-up","square","diamond","circle"]},"legend":null}}},
    {"mark":{"type":"text","align":"left","baseline":"middle","dx":17,"yOffset":4.5,"fontSize":9.5,"fontWeight":"bold"},"encoding":{"text":{"field":"s"},"color":{"value":"#000"}}}
   ]}
]
}
